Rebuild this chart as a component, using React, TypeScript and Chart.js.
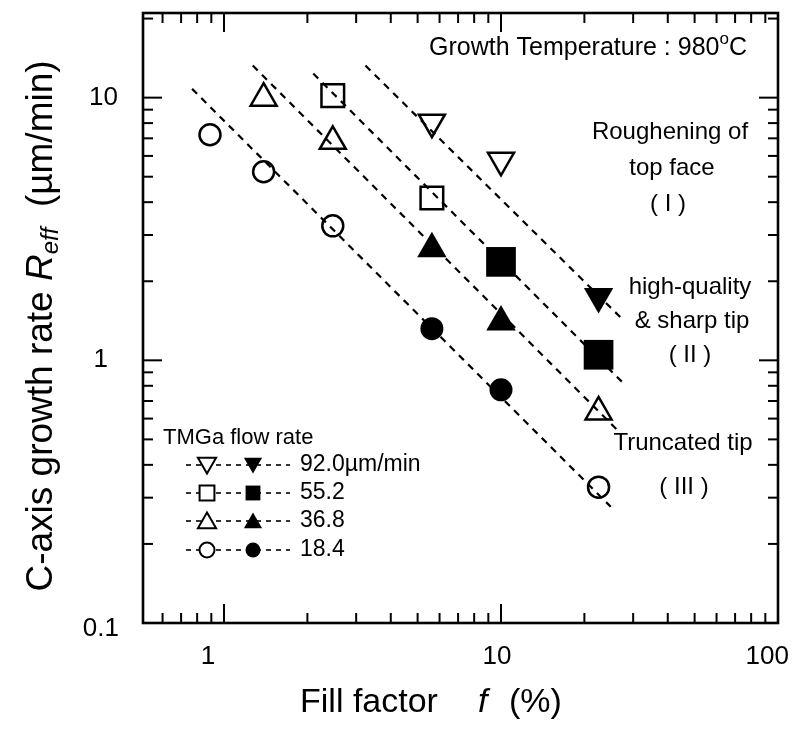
import React, { useEffect, useRef } from 'react';
import { Chart, registerables } from 'chart.js';

Chart.register(...registerables);

// ---- data ----
const fillFactor = [0.89, 1.39, 2.47, 5.63, 10.0, 22.5];

const rate920 = [null, null, null, 8.06, 5.77, 1.75];
const filled920 = [false, false, false, false, false, true];
const rate552 = [null, null, 10.18, 4.15, 2.37, 1.05];
const filled552 = [false, false, false, false, true, true];
const rate368 = [null, 9.95, 6.82, 2.66, 1.4, 0.636];
const filled368 = [false, false, false, true, true, false];
const rate184 = [7.22, 5.22, 3.25, 1.32, 0.772, 0.329];
const filled184 = [false, false, false, true, true, false];

// dashed guide lines (end points)
const fit920X = [3.24, 27.7];
const fit920Y = [13.25, 1.42];
const fit552X = [2.1, 27.7];
const fit552Y = [12.35, 0.817];
const fit368X = [1.27, 26.2];
const fit368Y = [13.25, 0.545];
const fit184X = [0.767, 24.9];
const fit184Y = [10.8, 0.277];

const seriesLabels = ['92.0\u00b5m/min', '55.2', '36.8', '18.4'];

const xMajorTicks = [1, 10, 100];
const xTickLabels = ['1', '10', '100'];
const yMajorTicks = [0.1, 1, 10];
const yTickLabels = ['0.1', '1', '10'];
const xMinorTicks = [0.6, 0.7, 0.8, 0.9, 2, 3, 4, 5, 6, 7, 8, 9, 20, 30, 40, 50, 60, 70, 80, 90];
const yMinorTicks = [0.2, 0.3, 0.4, 0.5, 0.6, 0.7, 0.8, 0.9, 2, 3, 4, 5, 6, 7, 8, 9, 20];

const X_MIN = 0.51;
const X_MAX = 100;
const Y_MIN = 0.1;
const Y_MAX = 21;

const FONT = '"Liberation Sans", Arial, Helvetica, sans-serif';

type Style = 'down' | 'rect' | 'triangle' | 'circle';

function pts(xs: number[], ys: (number | null)[]) {
  const out: { x: number; y: number }[] = [];
  xs.forEach((x, i) => {
    const y = ys[i];
    if (y !== null && y !== undefined) out.push({ x, y });
  });
  return out;
}

function markerDataset(ys: (number | null)[], filled: boolean[], style: Style, rOpen: number, rFilled: number) {
  const idx = ys.map((y, i) => i).filter((i) => ys[i] !== null);
  const f = idx.map((i) => filled[i]);
  const ps = style === 'down' ? 'triangle' : style;
  return {
    type: 'scatter' as const,
    data: pts(fillFactor, ys),
    showLine: false,
    pointStyle: ps,
    rotation: style === 'down' ? 180 : 0,
    pointRotation: style === 'down' ? 180 : 0,
    pointRadius: f.map((v) => (v ? rFilled : rOpen)),
    pointBackgroundColor: f.map((v) => (v ? '#000' : 'rgba(0,0,0,0)')),
    pointBorderColor: '#000',
    pointBorderWidth: f.map((v) => (v ? 0 : 2.5)),
    clip: false,
  };
}

function lineDataset(xs: number[], ys: number[]) {
  return {
    type: 'line' as const,
    data: pts(xs, ys),
    borderColor: '#000',
    borderWidth: 2.2,
    borderDash: [7, 6],
    pointRadius: 0,
    fill: false,
    tension: 0,
  };
}

function drawMarker(ctx: CanvasRenderingContext2D, style: Style, x: number, y: number, r: number, filled: boolean) {
  ctx.beginPath();
  if (style === 'circle') {
    ctx.arc(x, y, r, 0, Math.PI * 2);
  } else if (style === 'rect') {
    const s = r * Math.SQRT1_2;
    ctx.rect(x - s, y - s, 2 * s, 2 * s);
  } else {
    const sgn = style === 'down' ? -1 : 1;
    ctx.moveTo(x, y - sgn * r);
    ctx.lineTo(x + r * 0.866, y + sgn * r * 0.5);
    ctx.lineTo(x - r * 0.866, y + sgn * r * 0.5);
    ctx.closePath();
  }
  if (filled) {
    ctx.fillStyle = '#000';
    ctx.fill();
  } else {
    ctx.fillStyle = '#fff';
    ctx.fill();
    ctx.lineWidth = 2;
    ctx.strokeStyle = '#000';
    ctx.stroke();
  }
}

type Seg = { t: string; size: number; italic?: boolean; dy?: number };

function drawSegs(ctx: CanvasRenderingContext2D, segs: Seg[], cx: number, cy: number) {
  let total = 0;
  segs.forEach((s) => {
    ctx.font = `${s.italic ? 'italic ' : ''}${s.size}px ${FONT}`;
    total += ctx.measureText(s.t).width;
  });
  let x = cx - total / 2;
  ctx.textAlign = 'left';
  ctx.textBaseline = 'middle';
  segs.forEach((s) => {
    ctx.font = `${s.italic ? 'italic ' : ''}${s.size}px ${FONT}`;
    ctx.fillText(s.t, x, cy + (s.dy || 0));
    x += ctx.measureText(s.t).width;
  });
}

const bgPlugin = {
  id: 'bg',
  beforeDraw(chart: any) {
    const ctx = chart.ctx;
    ctx.save();
    ctx.fillStyle = '#fff';
    ctx.fillRect(0, 0, chart.width, chart.height);
    ctx.restore();
  },
};

const decorPlugin = {
  id: 'decor',
  afterDraw(chart: any) {
    const ctx: CanvasRenderingContext2D = chart.ctx;
    const { left, right, top, bottom } = chart.chartArea;
    const xs = chart.scales.x;
    const ys = chart.scales.y;
    ctx.save();
    ctx.strokeStyle = '#000';
    ctx.fillStyle = '#000';

    // ticks (inward, all four sides)
    ctx.lineWidth = 2;
    const tick = (x1: number, y1: number, x2: number, y2: number) => {
      ctx.beginPath();
      ctx.moveTo(x1, y1);
      ctx.lineTo(x2, y2);
      ctx.stroke();
    };
    const MAJ = 19;
    const MIN = 10;
    xMajorTicks.forEach((v) => {
      const p = xs.getPixelForValue(v);
      tick(p, bottom, p, bottom - MAJ);
      tick(p, top, p, top + MAJ);
    });
    xMinorTicks.forEach((v) => {
      const p = xs.getPixelForValue(v);
      tick(p, bottom, p, bottom - MIN);
      tick(p, top, p, top + MIN);
    });
    yMajorTicks.forEach((v) => {
      const p = ys.getPixelForValue(v);
      tick(left, p, left + MAJ, p);
      tick(right, p, right - MAJ, p);
    });
    yMinorTicks.forEach((v) => {
      const p = ys.getPixelForValue(v);
      tick(left, p, left + MIN, p);
      tick(right, p, right - MIN, p);
    });

    // frame
    ctx.lineWidth = 2.6;
    ctx.strokeRect(left, top, right - left, bottom - top);

    // tick labels
    ctx.font = `26px ${FONT}`;
    ctx.textBaseline = 'middle';
    ctx.textAlign = 'center';
    const xShift = [-16, -4, -10];
    xMajorTicks.forEach((v, i) => {
      let p = xs.getPixelForValue(v) + xShift[i];
      const w = ctx.measureText(xTickLabels[i]).width;
      if (p + w / 2 > chart.width - 3) p = chart.width - 3 - w / 2;
      ctx.fillText(xTickLabels[i], p, bottom + 34);
    });
    ctx.textAlign = 'right';
    const yRight = [119, 108, 118];
    const yShift = [6, 0, 0];
    yMajorTicks.forEach((v, i) => {
      const p = ys.getPixelForValue(v);
      ctx.fillText(yTickLabels[i], yRight[i], p + yShift[i]);
    });

    // x axis title
    ctx.textAlign = 'left';
    ctx.textBaseline = 'middle';
    ctx.font = `34px ${FONT}`;
    ctx.fillText('Fill factor', 300, 703);
    ctx.font = `italic 34px ${FONT}`;
    ctx.fillText('f', 478, 703);
    ctx.font = `34px ${FONT}`;
    ctx.fillText('(%)', 509, 703);

    // y axis title
    ctx.save();
    ctx.translate(42, 326);
    ctx.rotate(-Math.PI / 2);
    drawSegs(
      ctx,
      [
        { t: 'C-axis growth rate ', size: 37 },
        { t: 'R', size: 37, italic: true },
        { t: 'eff', size: 24, italic: true, dy: 9 },
        { t: '  (\u00b5m/min)', size: 37 },
      ],
      0,
      0
    );
    ctx.restore();

    // annotations
    drawSegs(
      ctx,
      [
        { t: 'Growth Temperature : 980', size: 25 },
        { t: 'o', size: 17, dy: -9 },
        { t: 'C', size: 25 },
      ],
      588,
      48
    );
    const ann: [string, number, number][] = [
      ['Roughening of', 670, 132],
      ['top face', 672, 168],
      ['( I )', 668, 204],
      ['high-quality', 690, 287],
      ['& sharp tip', 692, 321],
      ['( II )', 690, 355],
      ['Truncated tip', 683, 443],
      ['( III )', 684, 487],
    ];
    ann.forEach(([t, x, y]) => drawSegs(ctx, [{ t, size: 24 }], x, y));

    // legend
    ctx.font = `22px ${FONT}`;
    ctx.textAlign = 'left';
    ctx.textBaseline = 'middle';
    ctx.fillText('TMGa flow rate', 163, 438);
    const rows = [465, 493, 521, 550];
    const styles: Style[] = ['down', 'rect', 'triangle', 'circle'];
    rows.forEach((y, i) => {
      ctx.save();
      ctx.setLineDash([5, 5]);
      ctx.lineWidth = 1.6;
      ctx.beginPath();
      ctx.moveTo(186, y);
      ctx.lineTo(290, y);
      ctx.stroke();
      ctx.restore();
      const st = styles[i];
      const r = st === 'circle' ? 7.5 : 10.5;
      const dy = st === 'triangle' ? 2 : st === 'down' ? -2 : 0;
      drawMarker(ctx, st, 207, y + dy, r, false);
      drawMarker(ctx, st, 253, y + dy, r, true);
      ctx.font = `23px ${FONT}`;
      ctx.fillStyle = '#000';
      ctx.textAlign = 'left';
      ctx.fillText(seriesLabels[i], 300, y);
    });

    ctx.restore();
  },
};

export default function App() {
  const ref = useRef<HTMLCanvasElement>(null);
  useEffect(() => {
    document.body.style.margin = '0';
    const canvas = ref.current;
    if (!canvas) return;
    const chart = new Chart(canvas, {
      type: 'scatter',
      data: {
        datasets: [
          markerDataset(rate920, filled920, 'down', 15, 17),
          markerDataset(rate552, filled552, 'rect', 16, 21),
          markerDataset(rate368, filled368, 'triangle', 15, 17),
          markerDataset(rate184, filled184, 'circle', 10.5, 11.5),
          lineDataset(fit920X, fit920Y),
          lineDataset(fit552X, fit552Y),
          lineDataset(fit368X, fit368Y),
          lineDataset(fit184X, fit184Y),
        ] as any,
      },
      options: {
        animation: false,
        responsive: false,
        devicePixelRatio: 1,
        events: [],
        layout: { autoPadding: false, padding: { left: 143, right: 14, top: 13, bottom: 124 } },
        plugins: { legend: { display: false }, tooltip: { enabled: false } },
        scales: {
          x: { type: 'logarithmic', min: X_MIN, max: X_MAX, display: false },
          y: { type: 'logarithmic', min: Y_MIN, max: Y_MAX, display: false },
        },
      },
      plugins: [bgPlugin, decorPlugin],
    });
    return () => chart.destroy();
  }, []);
  return <canvas ref={ref} width={792} height={747} style={{ display: 'block', width: 792, height: 747 }} />;
}
